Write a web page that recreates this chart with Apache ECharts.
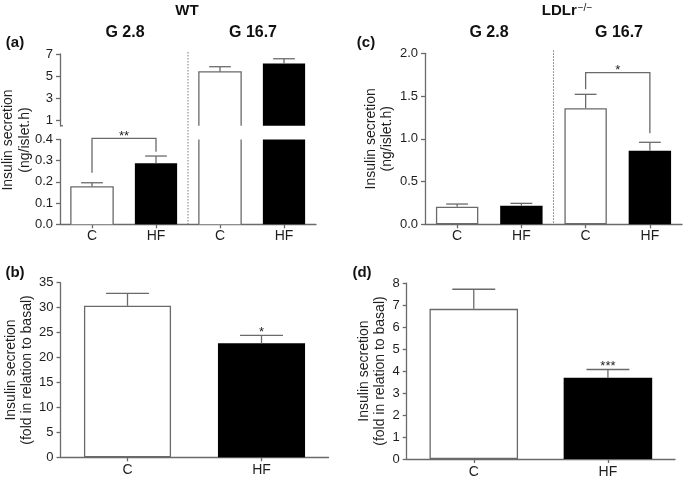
<!DOCTYPE html>
<html><head><meta charset="utf-8">
<script src="https://cdn.jsdelivr.net/npm/echarts@6/dist/echarts.min.js"></script>
<style>html,body{margin:0;padding:0;background:#fff}#c{width:683px;height:479px}</style>
</head><body><div id="c"></div>
<script>
// ---- data ----
const catsA = ['C', 'HF', 'C', 'HF'];
const aMean = [0.177, 0.288, 5.39, 6.15];
const aUpper = [0.196, 0.322, 5.85, 6.57];
const aTopTicks = [1, 3, 5, 7];
const aBracket = [0, 1, 0.405, 0.243, 0.342];
const aBracketLabel = '**';

const catsC = ['C', 'HF', 'C', 'HF'];
const cMean = [0.206, 0.218, 1.357, 0.861];
const cUpper = [0.237, 0.245, 1.52, 0.959];
const cBracket = [2, 3, 1.773, 1.579, 1.064];
const cBracketLabel = '*';

const catsB = ['C', 'HF'];
const bMean = [30.37, 22.84];
const bUpper = [32.86, 24.44];
const bStar = [1, 24.44];
const bStarLabel = '*';

const catsD = ['C', 'HF'];
const dMean = [6.83, 3.69];
const dUpper = [7.72, 4.07];
const dStar = [1, 4.07];
const dStarLabel = '***';

// ---- styles ----
const FONT = 'Liberation Sans, Arial, Helvetica, sans-serif';
const AX = '#6a6a6a';
const TXT = '#1e1e1e';
const LW = 1.3;
const BAR_FRAC = 0.66;

function barItems(vals, filter, whiteBorder) {
  return vals.map((v, i) => {
    const hf = i % 2 === 1;
    return {
      value: filter && !filter(v) ? '-' : v,
      itemStyle: hf ? { color: '#000', borderColor: '#000', borderWidth: 0 }
                    : { color: '#fff', borderColor: AX, borderWidth: whiteBorder === false ? 0 : LW }
    };
  });
}
function whiteData(vals) {
  const out = [];
  vals.forEach((v, i) => { if (i % 2 === 0) out.push([i, v]); });
  return out;
}
function outlineRender(minV, maxV) {
  return function (params, api) {
    const i = api.value(0), v = api.value(1);
    const lo = Math.max(minV, 0), hi = Math.min(v, maxV);
    if (hi <= lo) return;
    const halfW = api.size([1, 0])[0] * BAR_FRAC / 2;
    const b = api.coord([i, lo]), t = api.coord([i, hi]);
    const x0 = b[0] - halfW, x1 = b[0] + halfW;
    const st = { stroke: AX, lineWidth: LW, fill: null };
    if (v <= maxV) {
      return { type: 'polyline', shape: { points: [[x0, b[1]], [x0, t[1]], [x1, t[1]], [x1, b[1]]] }, style: st };
    }
    return { type: 'group', children: [
      { type: 'line', shape: { x1: x0, y1: b[1], x2: x0, y2: t[1] }, style: st },
      { type: 'line', shape: { x1: x1, y1: b[1], x2: x1, y2: t[1] }, style: st }
    ]};
  };
}
function errData(mean, upper, keep) {
  const out = [];
  mean.forEach((m, i) => { if (!keep || keep(m, upper[i])) out.push([i, m, upper[i]]); });
  return out;
}
function errRender(capFrac) {
  return function (params, api) {
    const i = api.value(0), m = api.value(1), u = api.value(2);
    const p0 = api.coord([i, m]), p1 = api.coord([i, u]);
    const half = api.size([1, 0])[0] * capFrac / 2;
    const st = { stroke: AX, lineWidth: LW };
    return { type: 'group', children: [
      { type: 'line', shape: { x1: p0[0], y1: p0[1], x2: p1[0], y2: p1[1] }, style: st },
      { type: 'line', shape: { x1: p1[0] - half, y1: p1[1], x2: p1[0] + half, y2: p1[1] }, style: st }
    ]};
  };
}
function bracketRender(label) {
  return function (params, api) {
    const i0 = api.value(0), i1 = api.value(1), top = api.value(2), lb = api.value(3), rb = api.value(4);
    const a = api.coord([i0, lb]), b = api.coord([i0, top]), c = api.coord([i1, top]), d = api.coord([i1, rb]);
    return { type: 'group', children: [
      { type: 'polyline', shape: { points: [a, b, c, d] }, style: { stroke: AX, lineWidth: LW, fill: null } },
      { type: 'text', x: (b[0] + c[0]) / 2, y: b[1] - 2,
        style: { text: label, font: '13px ' + FONT, fill: TXT, align: 'center', verticalAlign: 'middle' } }
    ]};
  };
}
function starRender(label) {
  return function (params, api) {
    const p = api.coord([api.value(0), api.value(1)]);
    return { type: 'text', x: p[0], y: p[1] - 3,
      style: { text: label, font: '13px ' + FONT, fill: TXT, align: 'center', verticalAlign: 'middle' } };
  };
}

const yLabel = { fontSize: 13, color: TXT, fontFamily: FONT, margin: 7 };
const yTick = { show: true, length: 4, lineStyle: { color: AX, width: LW } };
const axLine = { show: true, lineStyle: { color: AX, width: LW } };
const nameStyle = { fontSize: 14, color: TXT, fontFamily: FONT, lineHeight: 16 };

function xCat(grid, cats, show, margin) {
  return {
    type: 'category', gridIndex: grid, data: cats, show: show,
    axisLine: axLine,
    axisTick: { show: true, alignWithLabel: true, length: 4, lineStyle: { color: AX, width: LW } },
    axisLabel: { fontSize: 14, color: TXT, fontFamily: FONT, margin: margin },
    splitLine: { show: false }
  };
}

const topMin = 0.5, topMax = 7, botMax = 0.4;

const option = {
  animation: false,
  backgroundColor: '#fff',
  grid: [
    { left: 60, width: 256, top: 54, height: 71.8 },
    { left: 60, width: 256, top: 139.5, height: 84.8 },
    { left: 425, width: 257, top: 53.3, height: 171 },
    { left: 60.5, width: 268, top: 282.7, height: 174.6 },
    { left: 406.7, width: 268.3, top: 283.1, height: 177.6 }
  ],
  xAxis: [
    xCat(0, catsA, false, 5),
    xCat(1, catsA, true, 5),
    xCat(2, catsC, true, 5),
    xCat(3, catsB, true, 6),
    xCat(4, catsD, true, 6)
  ],
  yAxis: [
    { type: 'value', gridIndex: 0, min: topMin, max: topMax,
      axisLine: axLine, axisTick: Object.assign({ customValues: aTopTicks }, yTick),
      axisLabel: Object.assign({ customValues: aTopTicks }, yLabel), splitLine: { show: false } },
    { type: 'value', gridIndex: 1, min: 0, max: botMax, interval: 0.1,
      axisLine: axLine, axisTick: yTick,
      axisLabel: Object.assign({ formatter: v => v.toFixed(1) }, yLabel), splitLine: { show: false } },
    { type: 'value', gridIndex: 2, min: 0, max: 2, interval: 0.5,
      axisLine: axLine, axisTick: yTick,
      axisLabel: Object.assign({ formatter: v => v.toFixed(1) }, yLabel), splitLine: { show: false },
      name: 'Insulin secretion\n(ng/islet.h)', nameLocation: 'middle', nameRotate: 90, nameGap: 30,
      nameTextStyle: nameStyle },
    { type: 'value', gridIndex: 3, min: 0, max: 35, interval: 5,
      axisLine: axLine, axisTick: yTick, axisLabel: yLabel, splitLine: { show: false },
      name: 'Insulin secretion\n(fold in relation to basal)', nameLocation: 'middle', nameRotate: 90, nameGap: 20,
      nameTextStyle: nameStyle },
    { type: 'value', gridIndex: 4, min: 0, max: 8, interval: 1,
      axisLine: axLine, axisTick: yTick, axisLabel: yLabel, splitLine: { show: false },
      name: 'Insulin secretion\n(fold in relation to basal)', nameLocation: 'middle', nameRotate: 90, nameGap: 17,
      nameTextStyle: nameStyle }
  ],
  series: [
    { type: 'bar', xAxisIndex: 0, yAxisIndex: 0, barWidth: '66%', clip: true,
      data: barItems(aMean, v => v >= topMin, false) },
    { type: 'bar', xAxisIndex: 1, yAxisIndex: 1, barWidth: '66%', clip: true,
      data: barItems(aMean, null, false) },
    { type: 'bar', xAxisIndex: 2, yAxisIndex: 2, barWidth: '66%', data: barItems(cMean) },
    { type: 'bar', xAxisIndex: 3, yAxisIndex: 3, barWidth: '65%', data: barItems(bMean) },
    { type: 'bar', xAxisIndex: 4, yAxisIndex: 4, barWidth: '66%', data: barItems(dMean) },

    { type: 'custom', xAxisIndex: 0, yAxisIndex: 0, renderItem: outlineRender(topMin, topMax), encode: { x: 0, y: 1 },
      data: whiteData(aMean), z: 3 },
    { type: 'custom', xAxisIndex: 1, yAxisIndex: 1, renderItem: outlineRender(0, botMax), encode: { x: 0, y: 1 },
      data: whiteData(aMean), z: 3 },

    { type: 'custom', xAxisIndex: 0, yAxisIndex: 0, renderItem: errRender(0.34), encode: { x: 0, y: [1, 2] },
      data: errData(aMean, aUpper, (m, u) => m >= topMin), z: 3 },
    { type: 'custom', xAxisIndex: 1, yAxisIndex: 1, renderItem: errRender(0.34), encode: { x: 0, y: [1, 2] },
      data: errData(aMean, aUpper, (m, u) => u <= botMax), z: 3 },
    { type: 'custom', xAxisIndex: 2, yAxisIndex: 2, renderItem: errRender(0.34), encode: { x: 0, y: [1, 2] },
      data: errData(cMean, cUpper), z: 3 },
    { type: 'custom', xAxisIndex: 3, yAxisIndex: 3, renderItem: errRender(0.32), encode: { x: 0, y: [1, 2] },
      data: errData(bMean, bUpper), z: 3 },
    { type: 'custom', xAxisIndex: 4, yAxisIndex: 4, renderItem: errRender(0.32), encode: { x: 0, y: [1, 2] },
      data: errData(dMean, dUpper), z: 3 },

    { type: 'custom', xAxisIndex: 1, yAxisIndex: 1, renderItem: bracketRender(aBracketLabel), encode: { x: 0, y: 2 },
      data: [aBracket], z: 4, clip: false },
    { type: 'custom', xAxisIndex: 2, yAxisIndex: 2, renderItem: bracketRender(cBracketLabel), encode: { x: 0, y: 2 },
      data: [cBracket], z: 4 },
    { type: 'custom', xAxisIndex: 3, yAxisIndex: 3, renderItem: starRender(bStarLabel), encode: { x: 0, y: 1 },
      data: [bStar], z: 4 },
    { type: 'custom', xAxisIndex: 4, yAxisIndex: 4, renderItem: starRender(dStarLabel), encode: { x: 0, y: 1 },
      data: [dStar], z: 4 }
  ]
};

const chart = echarts.init(document.getElementById('c'), null, { renderer: 'canvas' });
chart.setOption(option);

// dividers and headers computed from the library's scales
const ax1 = chart.convertToPixel({ xAxisIndex: 1 }, 1), ax2 = chart.convertToPixel({ xAxisIndex: 1 }, 2);
const cx1 = chart.convertToPixel({ xAxisIndex: 2 }, 1), cx2 = chart.convertToPixel({ xAxisIndex: 2 }, 2);
const aTopY = chart.convertToPixel({ yAxisIndex: 0 }, topMax);
const aTopBot = chart.convertToPixel({ yAxisIndex: 0 }, topMin);
const aBotY = chart.convertToPixel({ yAxisIndex: 1 }, 0);
const cTopY = chart.convertToPixel({ yAxisIndex: 2 }, 2);
const cBotY = chart.convertToPixel({ yAxisIndex: 2 }, 0);
const aAxX = chart.convertToPixel({ xAxisIndex: 1 }, -0.5);
const dash = { stroke: '#7a7a7a', lineWidth: 1, lineDash: [1.5, 1.5] };
const bold = (s) => 'bold ' + s + 'px ' + FONT;
function txt(x, y, t, font, extra) {
  return Object.assign({ type: 'text', x: x, y: y, style: { text: t, font: font, fill: '#111', align: 'center', verticalAlign: 'middle' } }, extra || {});
}
chart.setOption({
  graphic: [
    { type: 'line', shape: { x1: (ax1 + ax2) / 2, y1: aTopY - 2, x2: (ax1 + ax2) / 2, y2: aBotY }, style: dash },
    { type: 'line', shape: { x1: (cx1 + cx2) / 2, y1: cTopY - 3, x2: (cx1 + cx2) / 2, y2: cBotY }, style: dash },
    // small axis-break hook at the bottom of the upper segment
    { type: 'line', shape: { x1: 60, y1: aTopBot, x2: 63, y2: aTopBot }, style: { stroke: AX, lineWidth: LW } },
    txt(187, 11, 'WT', bold(15)),
    txt(125, 33, 'G 2.8', bold(16)),
    txt(253, 33, 'G 16.7', bold(16)),
    { type: 'text', x: 567, y: 11, style: {
        text: '{a|LDLr}{s|−/−}', align: 'center', verticalAlign: 'middle',
        rich: { a: { font: bold(15), fill: '#111' }, s: { font: '10px ' + FONT, fill: '#111', padding: [0, 0, 6, 1] } } } },
    txt(489, 33, 'G 2.8', bold(16)),
    txt(619, 33, 'G 16.7', bold(16)),
    txt(15, 43, '(a)', bold(15)),
    txt(366, 43, '(c)', bold(15)),
    txt(15, 273, '(b)', bold(15)),
    txt(362, 273, '(d)', bold(15)),
    { type: 'text', x: 17, y: 140, rotation: Math.PI / 2,
      style: { text: 'Insulin secretion\n(ng/islet.h)', font: '14px ' + FONT, lineHeight: 17, fill: TXT, align: 'center', verticalAlign: 'middle' } }
  ]
});
</script></body></html>
